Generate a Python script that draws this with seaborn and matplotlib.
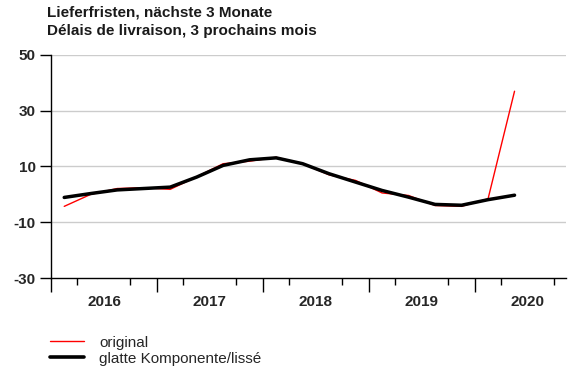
import matplotlib
matplotlib.use("Agg")
import matplotlib.pyplot as plt
from matplotlib.lines import Line2D
import numpy as np
import pandas as pd
import seaborn as sns

# Quarterly survey balance: delivery times, next 3 months
quarters = ["2016Q1", "2016Q2", "2016Q3", "2016Q4",
            "2017Q1", "2017Q2", "2017Q3", "2017Q4",
            "2018Q1", "2018Q2", "2018Q3", "2018Q4",
            "2019Q1", "2019Q2", "2019Q3", "2019Q4",
            "2020Q1", "2020Q2"]
original = [-4.3, 0.0, 2.1, 2.4, 1.8, 6.3, 11.0, 11.9, 13.3, 11.0,
            7.0, 5.0, 0.5, -0.4, -4.0, -4.3, -1.6, 37.0]
smoothed = [-1.1, 0.3, 1.6, 2.1, 2.6, 6.2, 10.4, 12.4, 13.1, 11.0,
            7.4, 4.4, 1.4, -1.0, -3.6, -3.9, -1.9, -0.3]

year_labels = ["2016", "2017", "2018", "2019", "2020"]
y_ticks = [50, 30, 10, -10, -30]

title_de = "Lieferfristen, nächste 3 Monate"
title_fr = "Délais de livraison, 3 prochains mois"
legend_labels = ["original", "glatte Komponente/lissé"]

sns.set_theme(style="white")
plt.rcParams["font.family"] = ["Liberation Sans", "DejaVu Sans"]
plt.rcParams["axes.unicode_minus"] = False

# quarter mid-points as fractional years
def to_x(q):
    y, n = int(q[:4]), int(q[-1])
    return y + (n - 1) * 0.25 + 0.125

df = pd.DataFrame({"t": [to_x(q) for q in quarters],
                   "original": original,
                   "smoothed": smoothed})

fig = plt.figure(figsize=(5.69, 3.69), dpi=100)
ax = fig.add_axes([0.0896, 0.2466, 0.905, 0.6044])

sns.lineplot(data=df, x="t", y="original", ax=ax, color="#ff0000",
             linewidth=1.0, zorder=3)
sns.lineplot(data=df, x="t", y="smoothed", ax=ax, color="#000000",
             linewidth=2.5, zorder=4)

ax.set_xlim(2016.0, 2020.86)
ax.set_ylim(-30, 50)
ax.set_xlabel("")
ax.set_ylabel("")

# horizontal grid
ax.set_yticks(y_ticks)
ax.set_yticklabels([str(v) for v in y_ticks], fontsize=11, fontweight="bold")
for v in y_ticks[:-1]:
    ax.axhline(v, color="#cccccc", linewidth=1.0, zorder=1)

ax.tick_params(axis="y", which="major", direction="out", length=8,
               width=1.0, color="black", pad=3, left=True)

# year labels centred between year boundaries, quarter ticks as minor
years = np.arange(2016, 2021)
ax.set_xticks(years + 0.5)
ax.set_xticklabels(year_labels, fontsize=11, fontweight="bold")
ax.set_xticks([y + q * 0.25 for y in years for q in (1, 2, 3)], minor=True)
ax.tick_params(axis="x", which="major", length=0, pad=12)
ax.tick_params(axis="x", which="minor", direction="out", length=5,
               width=1.0, color="black", bottom=True)

# longer ticks at the year boundaries
sec = ax.secondary_xaxis("bottom")
sec.set_xticks(years)
sec.set_xticklabels([""] * len(years))
sec.tick_params(axis="x", direction="out", length=10, width=1.0, color="black")
sec.spines["bottom"].set_visible(False)

for s in ("top", "right"):
    ax.spines[s].set_visible(False)
for s in ("left", "bottom"):
    ax.spines[s].set_color("black")
    ax.spines[s].set_linewidth(1.0)

fig.text(0.083, 0.965, title_de, fontsize=11, fontweight="bold",
         color="#1a1a1a", va="center")
fig.text(0.083, 0.917, title_fr, fontsize=11, fontweight="bold",
         color="#1a1a1a", va="center")

handles = [Line2D([], [], color="#ff0000", linewidth=1.0),
           Line2D([], [], color="#000000", linewidth=2.6)]
fig.legend(handles, legend_labels, loc="upper left",
           bbox_to_anchor=(0.088, 0.09), frameon=False, fontsize=11,
           handlelength=2.2, handletextpad=1.0, labelspacing=0.12,
           borderpad=0, borderaxespad=0)

fig.savefig("out.png", dpi=100)
